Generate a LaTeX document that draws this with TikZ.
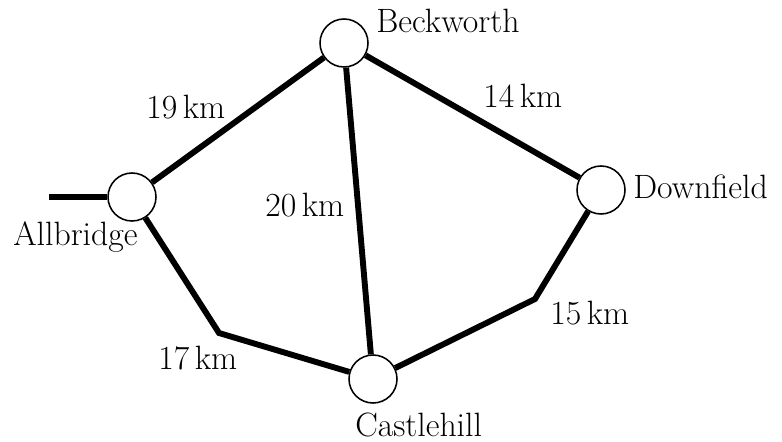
\documentclass[tikz,border=0pt]{standalone}
\usepackage{tikz}
\usetikzlibrary{positioning}

\begin{document}
\begin{tikzpicture}[
    town/.style={draw, circle, fill=white, line width=1.1pt, minimum size=1.2cm, inner sep=0pt},
    road/.style={line width=4.2pt},
    txt/.style={inner sep=0pt, anchor=base west, font=\fontsize{24}{28}\selectfont},
  ]
  \useasboundingbox (0,0) rectangle (19.55,11.025);
  \node[town] (A) at (3.30,6.10)   {};
  \node[town] (B) at (8.60,9.95)   {};
  \node[town] (D) at (15.025,6.275) {};
  \node[town] (C) at (9.325,1.55)  {};
  \coordinate (stub) at (1.225,6.10);
  \coordinate (bendAC) at (5.475,2.70);
  \coordinate (bendDC) at (13.375,3.55);
  \draw[road] (stub) -- (A);
  \draw[road] (A) -- (B);
  \draw[road] (B) -- (D);
  \draw[road] (B) -- (C);
  \draw[road] (A) -- (bendAC) -- (C);
  \draw[road] (D) -- (bendDC) -- (C);
  % town names
  \node[txt] (Aname) at (0.325,4.875) {Allbridge};
  \node[txt] (Bname) at (9.40,10.20)  {Beckworth};
  \node[txt] (Cname) at (8.875,0.125) {Castlehill};
  \node[txt] (Dname) at (15.825,6.05) {Downfield};
  % distances
  \node[txt] (AB) at (3.65,8.05)   {19\,km};
  \node[txt] (BD) at (12.075,8.325) {14\,km};
  \node[txt] (BC) at (6.625,5.60)  {20\,km};
  \node[txt] (AC) at (3.95,1.80)   {17\,km};
  \node[txt] (DC) at (13.75,2.925) {15\,km};
\end{tikzpicture}
\end{document}
